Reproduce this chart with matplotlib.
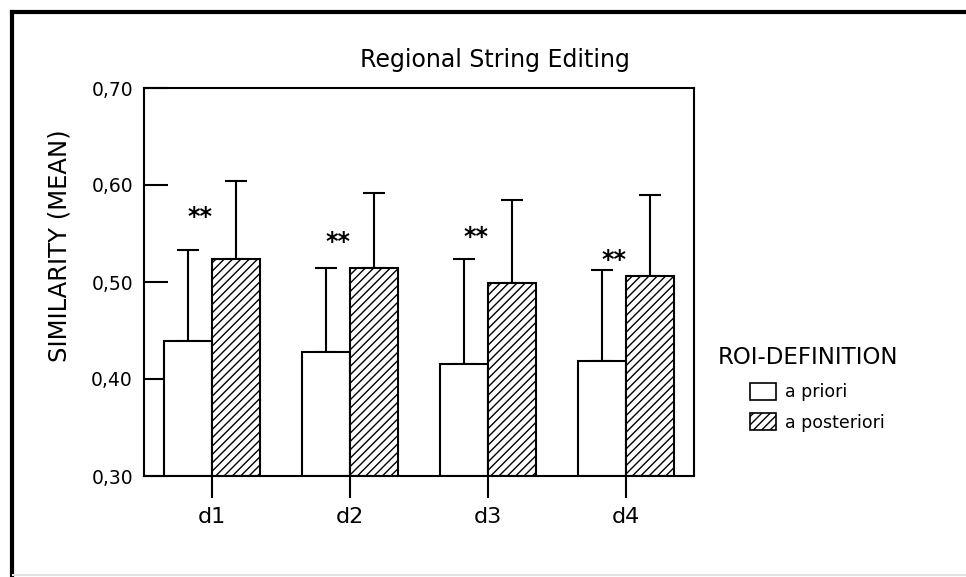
import numpy as np
import matplotlib
matplotlib.use("Agg")
import matplotlib.pyplot as plt
from matplotlib.patches import Patch
from matplotlib.lines import Line2D

# data
groups = ['d1', 'd2', 'd3', 'd4']
mean_priori = np.array([0.439, 0.428, 0.415, 0.419])
err_priori = np.array([0.094, 0.086, 0.109, 0.093])
mean_post = np.array([0.524, 0.514, 0.499, 0.506])
err_post = np.array([0.080, 0.078, 0.086, 0.084])
star_level = [0.567, 0.541, 0.546, 0.523]
y_ticks = [0.30, 0.40, 0.50, 0.60, 0.70]

plt.rcParams['font.family'] = ['DejaVu Sans']
plt.rcParams['hatch.linewidth'] = 1.0

W, H = 966, 577
fig = plt.figure(figsize=(W / 100, H / 100), dpi=100)
ax = fig.add_axes([144 / W, 1 - 476 / H, 550 / W, 388 / H])

x = np.arange(len(groups))
bw = 0.35
lw = 1.5

ax.bar(x - bw / 2, mean_priori - 0.30, bw, bottom=0.30, color='white',
       edgecolor='black', linewidth=lw, zorder=2)
ax.bar(x + bw / 2, mean_post - 0.30, bw, bottom=0.30, color='white',
       edgecolor='black', hatch='////', linewidth=lw, zorder=2)

ax.errorbar(x - bw / 2, mean_priori, yerr=[np.zeros(4), err_priori], fmt='none',
            ecolor='black', elinewidth=lw, capsize=8, capthick=lw, zorder=1)
ax.errorbar(x + bw / 2, mean_post, yerr=[np.zeros(4), err_post], fmt='none',
            ecolor='black', elinewidth=lw, capsize=8, capthick=lw, zorder=1)

# significance marks
for xi, yi in zip(x, star_level):
    ax.text(xi - 0.09, yi, '**', ha='center', va='center', fontsize=17,
            fontweight='bold')

ax.set_xlim(-0.493, 3.493)
ax.set_ylim(0.30, 0.70)
ax.set_xticks(x)
ax.set_xticklabels(groups, fontsize=16)
ax.set_yticks(y_ticks)
ax.set_yticklabels([f'{v:.2f}'.replace('.', ',') for v in y_ticks], fontsize=13.5)
ax.tick_params(axis='y', direction='in', length=17, width=lw, pad=8)
ax.tick_params(axis='x', direction='out', length=16, width=lw, pad=6)
for s in ax.spines.values():
    s.set_linewidth(lw)

fig.text(495 / W, 1 - 60 / H, 'Regional String Editing', ha='center',
         va='center', fontsize=17)
fig.text(60 / W, 1 - 246 / H, 'SIMILARITY (MEAN)', ha='center', va='center',
         rotation=90, fontsize=17.5)

# legend
fig.text(718 / W, 1 - 358 / H, 'ROI-DEFINITION', ha='left', va='center',
         fontsize=16.5)
handles = [Patch(facecolor='white', edgecolor='black', linewidth=1.2),
           Patch(facecolor='white', edgecolor='black', hatch='////', linewidth=1.2)]
fig.legend(handles, ['a priori', 'a posteriori'], loc='upper left',
           bbox_to_anchor=(750 / W, 1 - 383 / H), frameon=False, fontsize=12.5,
           borderpad=0, borderaxespad=0, handlelength=1.5, handleheight=1.1,
           handletextpad=0.5, labelspacing=0.7)

# page frame
fig.add_artist(Line2D([11.5 / W, 11.5 / W], [0, 1 - 11.5 / H], color='black',
                      linewidth=3, solid_capstyle='projecting',
                      transform=fig.transFigure))
fig.add_artist(Line2D([11.5 / W, 1], [1 - 11.5 / H, 1 - 11.5 / H], color='black',
                      linewidth=3, transform=fig.transFigure))
fig.add_artist(Line2D([13 / W, 1], [1 - 575 / H, 1 - 575 / H], color='#e2e2e2',
                      linewidth=1.5, transform=fig.transFigure))

fig.savefig('out.png', dpi=100)
